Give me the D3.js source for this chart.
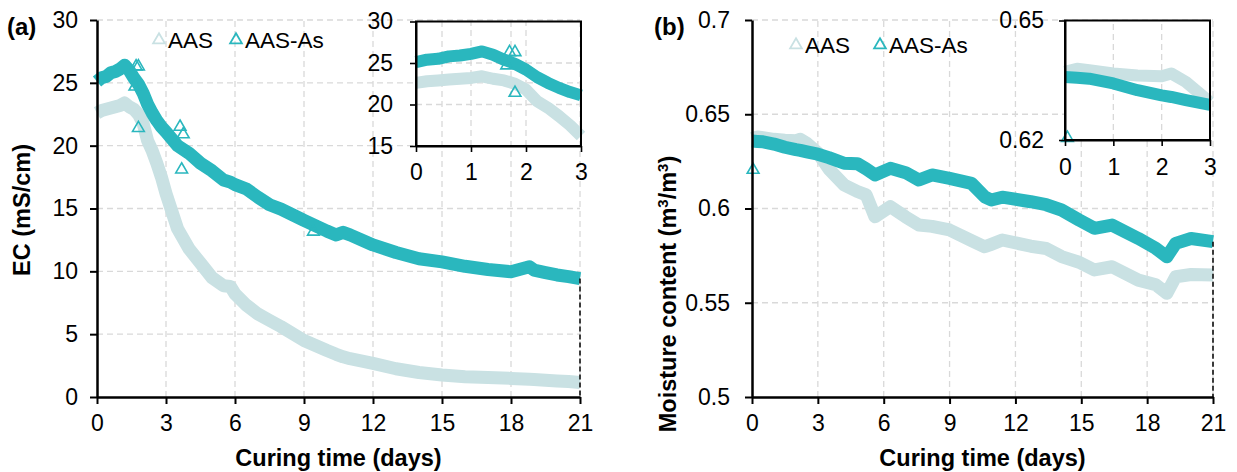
<!DOCTYPE html>
<html>
<head>
<meta charset="utf-8">
<script src="https://cdn.jsdelivr.net/npm/d3@7"></script>
<style>
  html, body { margin: 0; padding: 0; background: #fff; }
  svg { display: block; font-family: "Liberation Sans", Arial, sans-serif; }
</style>
</head>
<body>
<svg id="chart" width="1237" height="472"></svg>
<script>
// --- (a) electrical conductivity, mS/cm ---
const ecDays   = [0, 0.2, 0.4, 0.6, 0.8, 1.0, 1.2, 1.4, 1.6, 1.8, 2.0, 2.2, 2.4, 2.6, 2.8, 3.0, 3.5, 4, 4.5, 5, 5.5, 5.8, 6, 6.5, 7, 7.5, 8, 9, 10, 10.4, 10.7, 11, 12, 13, 14, 15, 16, 17, 18, 18.8, 19, 19.5, 20, 20.5, 21];
const ecAAS    = [22.6, 22.8, 22.9, 23.0, 23.1, 23.2, 23.4, 23.1, 22.9, 22.5, 21.8, 20.4, 19.6, 18.6, 17.5, 16.2, 13.4, 11.8, 10.65, 9.5, 8.85, 8.8, 8.2, 7.3, 6.6, 6.1, 5.6, 4.5, 3.7, 3.4, 3.2, 3.05, 2.68, 2.25, 1.95, 1.75, 1.62, 1.55, 1.48, 1.42, 1.4, 1.33, 1.28, 1.24, 1.15];
const ecAASAs  = [25.1, 25.4, 25.5, 25.8, 25.9, 26.1, 26.4, 26.0, 25.4, 24.9, 24.2, 23.3, 22.6, 22.0, 21.5, 21.1, 20.0, 19.4, 18.6, 18.0, 17.27, 17.1, 16.9, 16.55, 15.9, 15.3, 14.95, 14.05, 13.2, 12.9, 13.1, 12.9, 12.1, 11.5, 11.0, 10.75, 10.4, 10.15, 9.97, 10.37, 10.1, 9.9, 9.71, 9.58, 9.42];
// stray AAS-As readings drawn as single markers
const ecOutDays = [1.70, 1.80, 1.65, 1.80, 3.61, 3.75, 3.68, 9.41];
const ecOutVals = [26.3, 26.3, 24.7, 21.4, 21.5, 20.9, 18.1, 13.15];

// --- (b) moisture content, m3/m3 ---
const mcDays   = [0, 0.25, 0.5, 1, 1.5, 2, 2.2, 2.5, 3, 3.5, 4.2, 4.8, 5.2, 5.6, 6.3, 7, 7.6, 8.2, 9, 10, 10.6, 10.9, 11.4, 12.7, 13.4, 14.1, 14.9, 15.6, 16.4, 17.6, 18.4, 18.9, 19.3, 20, 21];
const mcAAS    = [0.6371, 0.6379, 0.6375, 0.6367, 0.6362, 0.636, 0.6367, 0.6346, 0.6295, 0.621, 0.6125, 0.609, 0.6072, 0.5956, 0.601, 0.5955, 0.5912, 0.5905, 0.5886, 0.583, 0.5797, 0.581, 0.5833, 0.58, 0.5788, 0.5745, 0.5715, 0.5674, 0.5691, 0.562, 0.5595, 0.555, 0.5638, 0.565, 0.5647];
const mcAASAs  = [0.6358, 0.6356, 0.6354, 0.6342, 0.6325, 0.6312, 0.6308, 0.630, 0.6288, 0.627, 0.624, 0.6238, 0.621, 0.6178, 0.6213, 0.619, 0.6151, 0.6178, 0.616, 0.6133, 0.6062, 0.6045, 0.606, 0.6036, 0.602, 0.5992, 0.5939, 0.5895, 0.5912, 0.5841, 0.5788, 0.5744, 0.5815, 0.5841, 0.5824];
const mcOutDays = [0.05];
const mcOutVals = [0.6205];

const seriesNames = ['AAS', 'AAS-As'];
const mainDays = [0, 3, 6, 9, 12, 15, 18, 21];
const insetDays = [0, 1, 2, 3];
const ecTicks = [0, 5, 10, 15, 20, 25, 30];
const ecInsetTicks = [15, 20, 25, 30];
const mcTicks = [0.5, 0.55, 0.6, 0.65, 0.7];
const mcInsetTicks = [0.62, 0.65];

const LIGHT = '#c9e1e3';
const TEAL = '#2ab7be';
const GRID = '#d9d9d9';
const FS = 23;

const svg = d3.select('#chart');
const tri = d3.symbol().type(d3.symbolTriangle).size(60);
const fmtInt = d3.format('d');
const fmtDec = d => String(+d.toFixed(2));

function styleAxis(g, width) {
  g.select('.domain').attr('stroke', '#000').attr('stroke-width', width);
  g.selectAll('.tick line').attr('stroke', '#000').attr('stroke-width', width * 0.8);
  g.selectAll('text').attr('fill', '#000').style('font-size', FS + 'px')
    .style('font-family', '"Liberation Sans", Arial, sans-serif');
}

function band(g, x, y, days, vals, color, width, maxDay) {
  const pts = days.map((d, i) => [d, vals[i]]).filter(p => p[0] <= maxDay);
  g.append('path')
    .attr('d', d3.line().x(p => x(p[0])).y(p => y(p[1]))(pts))
    .attr('fill', 'none').attr('stroke', color).attr('stroke-width', width)
    .attr('stroke-linejoin', 'round').attr('stroke-linecap', 'butt');
}

function markers(g, x, y, days, vals, color) {
  g.selectAll(null).data(days.map((d, i) => [d, vals[i]])).join('path')
    .attr('d', tri)
    .attr('transform', p => `translate(${x(p[0])},${y(p[1])})`)
    .attr('fill', 'none').attr('stroke', color).attr('stroke-width', 1.6);
}

function drawPanel(o) {
  const g = svg.append('g');
  const x = d3.scaleLinear().domain([0, 21]).range(o.xr);
  const y = d3.scaleLinear().domain(o.yd).range(o.yr);

  // dashed grid
  g.selectAll('.vg').data(mainDays.slice(1)).join('line')
    .attr('x1', x).attr('x2', x).attr('y1', o.yr[0]).attr('y2', o.yr[1])
    .attr('stroke', GRID).attr('stroke-width', 1.3).attr('stroke-dasharray', '6,4');
  g.selectAll('.hg').data(o.yTicks.slice(1)).join('line')
    .attr('x1', o.xr[0]).attr('x2', o.xr[1]).attr('y1', y).attr('y2', y)
    .attr('stroke', GRID).attr('stroke-width', 1.3).attr('stroke-dasharray', '6,4');

  band(g, x, y, o.days, o.s1, LIGHT, 13, 21);
  band(g, x, y, o.days, o.s2, TEAL, 13, 21);
  markers(g, x, y, o.outDays, o.outVals, TEAL);

  // drop line at the end of the AAS-As record
  const last = o.s2[o.s2.length - 1];
  g.append('line').attr('x1', x(21)).attr('x2', x(21)).attr('y1', y(last)).attr('y2', o.yr[0])
    .attr('stroke', '#000').attr('stroke-width', 1.5).attr('stroke-dasharray', '5,3');

  const ax = g.append('g').attr('transform', `translate(0,${o.yr[0]})`)
    .call(d3.axisBottom(x).tickValues(mainDays).tickSize(7).tickSizeOuter(0).tickPadding(11).tickFormat(fmtInt));
  styleAxis(ax, 2.5);
  const ay = g.append('g').attr('transform', `translate(${o.xr[0]},0)`)
    .call(d3.axisLeft(y).tickValues(o.yTicks).tickSize(7).tickSizeOuter(0).tickPadding(o.yPad).tickFormat(o.fmt));
  styleAxis(ay, 2.5);

  // titles
  g.append('text').attr('x', (o.xr[0] + o.xr[1]) / 2).attr('y', 466).attr('text-anchor', 'middle')
    .style('font-size', '23.5px').style('font-weight', 'bold').text('Curing time (days)');
  const yt = g.append('text').attr('transform', `translate(${o.ytx},${o.yty}) rotate(-90)`)
    .attr('text-anchor', 'middle').attr('dy', '0.35em')
    .style('font-size', '23.5px').style('font-weight', 'bold');
  o.yTitle.forEach(t => {
    const s = yt.append('tspan').text(t.s);
    if (t.sup) s.attr('baseline-shift', 'super').style('font-size', '15px');
  });
  g.append('text').attr('x', o.lblx).attr('y', 35).style('font-size', '24px').style('font-weight', 'bold').text(o.label);

  // legend
  const lg = g.append('g').attr('transform', `translate(${o.legx},${o.legy})`);
  [LIGHT, TEAL].forEach((c, i) => {
    const off = i === 0 ? 0 : o.legGap;
    lg.append('path').attr('d', tri).attr('transform', `translate(${off},0)`)
      .attr('fill', 'none').attr('stroke', c).attr('stroke-width', 1.8);
    lg.append('text').attr('x', off + 9).attr('y', 0).attr('dy', '0.35em')
      .style('font-size', '22.5px').text(seriesNames[i]);
  });
  return g;
}

function drawInset(o) {
  const g = svg.append('g');
  const x = d3.scaleLinear().domain([0, 3]).range(o.xr);
  const y = d3.scaleLinear().domain(o.yd).range(o.yr);
  if (o.fill) {
    g.append('rect').attr('x', o.xr[0]).attr('y', o.yr[1]).attr('width', o.xr[1] - o.xr[0])
      .attr('height', o.yr[0] - o.yr[1]).attr('fill', '#fff');
  }
  g.selectAll('.vg').data([1, 2]).join('line')
    .attr('x1', x).attr('x2', x).attr('y1', o.yr[0]).attr('y2', o.yr[1])
    .attr('stroke', GRID).attr('stroke-width', 1.3).attr('stroke-dasharray', '6,4');
  g.selectAll('.hg').data(o.grid).join('line')
    .attr('x1', o.xr[0]).attr('x2', o.xr[1]).attr('y1', y).attr('y2', y)
    .attr('stroke', GRID).attr('stroke-width', 1.3).attr('stroke-dasharray', '6,4');

  band(g, x, y, o.days, o.s1, LIGHT, 12, 3);
  band(g, x, y, o.days, o.s2, TEAL, 12, 3);
  const keep = o.outDays.map(d => d <= 3);
  markers(g, x, y, o.outDays.filter((d, i) => keep[i]), o.outVals.filter((v, i) => keep[i]), TEAL);

  // frame
  g.append('rect').attr('x', o.xr[0]).attr('y', o.yr[1]).attr('width', o.xr[1] - o.xr[0])
    .attr('height', o.yr[0] - o.yr[1]).attr('fill', 'none').attr('stroke', '#000').attr('stroke-width', 2);

  const ax = g.append('g').attr('transform', `translate(0,${o.yr[0]})`)
    .call(d3.axisBottom(x).tickValues(insetDays).tickSize(6).tickSizeOuter(0).tickPadding(o.xPad).tickFormat(fmtInt));
  styleAxis(ax, 2);
  const ay = g.append('g').attr('transform', `translate(${o.xr[0]},0)`)
    .call(d3.axisLeft(y).tickValues(o.yTicks).tickSize(6).tickSizeOuter(0).tickPadding(o.yPad).tickFormat(o.fmt));
  styleAxis(ay, 2);
}

drawPanel({
  xr: [97, 580], yd: [0, 30], yr: [397, 20], yTicks: ecTicks, fmt: fmtInt, yPad: 12,
  days: ecDays, s1: ecAAS, s2: ecAASAs, outDays: ecOutDays, outVals: ecOutVals,
  yTitle: [{ s: 'EC (mS/cm)' }], ytx: 22, yty: 210, label: '(a)', lblx: 7,
  legx: 159, legy: 40, legGap: 77
});
drawInset({
  xr: [416, 581], yd: [15, 30], yr: [146, 21.5], yTicks: ecInsetTicks, grid: [20, 25],
  fmt: fmtInt, xPad: 12, yPad: 17, fill: false,
  days: ecDays, s1: ecAAS, s2: ecAASAs, outDays: ecOutDays, outVals: ecOutVals
});

drawPanel({
  xr: [752, 1213], yd: [0.5, 0.7], yr: [397, 20], yTicks: mcTicks, fmt: fmtDec, yPad: 15,
  days: mcDays, s1: mcAAS, s2: mcAASAs, outDays: mcOutDays, outVals: mcOutVals,
  yTitle: [{ s: 'Moisture content (m' }, { s: '3', sup: true }, { s: '/m' }, { s: '3', sup: true }, { s: ')' }],
  ytx: 668, yty: 294, label: '(b)', lblx: 654,
  legx: 796, legy: 45, legGap: 84
});
drawInset({
  xr: [1065, 1210], yd: [0.62, 0.65], yr: [140, 20.5], yTicks: mcInsetTicks, grid: [],
  fmt: fmtDec, xPad: 13, yPad: 15, fill: true,
  days: mcDays, s1: mcAAS, s2: mcAASAs, outDays: mcOutDays, outVals: mcOutVals
});
</script>
</body>
</html>
